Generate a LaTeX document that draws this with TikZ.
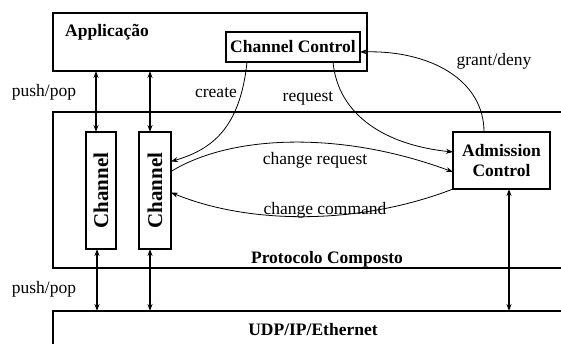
\documentclass[tikz,border=0pt]{standalone}
\usepackage{fontspec}
\setmainfont{Liberation Serif}
\usepackage{graphicx}
\usetikzlibrary{arrows.meta, calc}
\tikzset{
    my-box/.style={
        draw, line width=1.2pt, inner sep=0pt, outer sep=0pt
    },
    my-bold/.style={
        font=\fontsize{17.5}{20}\selectfont\bfseries, inner sep=0pt
    },
    my-text/.style={
        font=\fontsize{17.5}{20}\selectfont, inner sep=0pt
    },
    my-flow/.style={
        line width=0.8pt, -{Stealth[length=7pt, width=5pt]}
    },
    my-stack/.style={
        line width=1.2pt, {Stealth[length=7pt, width=5pt]}-{Stealth[length=7pt, width=5pt]}
    },
}

\begin{document}
\begin{tikzpicture}[x=1pt, y=-1pt]

        \useasboundingbox (0,0) rectangle (561,343);
        \clip (0,0) rectangle (561,343);

        % LAYERS
        \node[my-box, minimum width=314pt, minimum height=58pt]  (APP)  at (210, 42)    {};
        \node[my-box, minimum width=567pt, minimum height=156pt] (PROT) at (336.5, 190) {};
        \node[my-box, minimum width=567pt, minimum height=69pt]  (UDP)  at (336.5, 345.5) {};

        % LAYER NAMES
        \node[my-bold, anchor=base west] (APPNAME)  at (65, 36)   {Applicação};
        \node[my-bold, anchor=base]      (PROTNAME) at (327, 263) {Protocolo Composto};
        \node[my-bold, anchor=base]      (UDPNAME)  at (313, 335) {UDP/IP/Ethernet};

        % CONTROL BLOCKS
        \node[my-box, my-bold, minimum width=134pt, minimum height=30pt] (CC) at (293, 47) {Channel Control};
        \node[my-box, my-bold, minimum width=97pt, minimum height=57pt, align=center] (AC) at (501.5, 160.5) {Admission\\Control};

        % CHANNELS
        \node[my-box, my-bold, font=\fontsize{21}{24}\selectfont\bfseries,
              minimum width=30pt, minimum height=117pt] (CH1) at (101, 190.5) {\rotatebox{90}{Channel}};
        \node[my-box, my-bold, font=\fontsize{21}{24}\selectfont\bfseries,
              minimum width=32pt, minimum height=117pt] (CH2) at (155, 190.5) {\rotatebox{90}{Channel}};

        % PUSH/POP CONNECTOR POINTS
        \coordinate (CH1TOP) at ($(CH1.north) + (-5, 0)$);
        \coordinate (CH2TOP) at ($(CH2.north) + (-5, 0)$);
        \coordinate (CH1BOT) at ($(CH1.south) + (-4, 0)$);
        \coordinate (CH2BOT) at ($(CH2.south) + (-5, 0)$);
        \coordinate (ACBOT)  at ($(AC.south)  + (7.5, 0)$);

        % PUSH/POP WIRES
        \draw[my-stack] (CH1TOP |- APP.south) -- (CH1TOP);
        \draw[my-stack] (CH2TOP |- APP.south) -- (CH2TOP);
        \draw[my-stack] (CH1BOT) -- (CH1BOT |- UDP.north);
        \draw[my-stack] (CH2BOT) -- (CH2BOT |- UDP.north);
        \draw[my-stack] (ACBOT)  -- (ACBOT |- UDP.north);
        \node[my-text, anchor=base] (PP1) at (44, 96)  {push/pop};
        \node[my-text, anchor=base] (PP2) at (44, 293) {push/pop};

        % CONTROL FLOWS
        \draw[my-flow] ($(CC.south) + (-46, 0)$) .. controls (240, 130) and (210, 150) .. ($(CH2.east) + (0, -29)$);
        \draw[my-flow] ($(CC.south) + (40, 0)$)  .. controls (338, 115) and (385, 145) .. ($(AC.west) + (0, -8.5)$);
        \draw[my-flow] ($(AC.north) + (-17.5, 0)$) .. controls (484, 80) and (430, 50) .. ($(CC.east) + (0, 5)$);
        \draw[my-flow] ($(CH2.east) + (0, -19)$) .. controls (230, 135) and (340, 130) .. ($(AC.west) + (0, 11.5)$);
        \draw[my-flow] (AC.south west) .. controls (360, 225) and (250, 225) .. ($(CH2.east) + (0, 2)$);

        % FLOW LABELS
        \node[my-text, anchor=base] (CREATE) at (216, 97)  {create};
        \node[my-text, anchor=base] (REQ)    at (308, 101) {request};
        \node[my-text, anchor=base] (GRANT)  at (494, 65)  {grant/deny};
        \node[my-text, anchor=base] (CHREQ)  at (315, 164) {change request};
        \node[my-text, anchor=base] (CHCMD)  at (325, 214) {change command};

\end{tikzpicture}
\end{document}
